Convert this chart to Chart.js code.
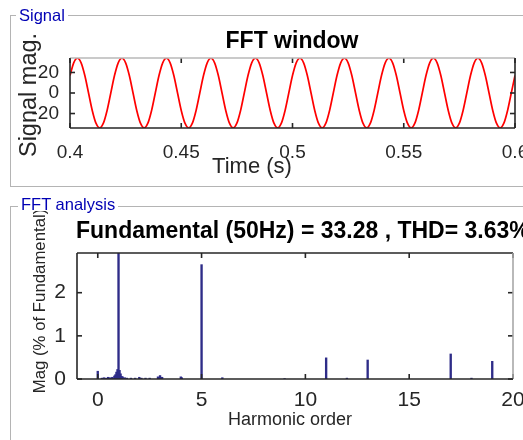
<!DOCTYPE html>
<html>
<head>
<meta charset="utf-8">
<script src="https://cdn.jsdelivr.net/npm/chart.js@4.4.1/dist/chart.umd.min.js"></script>
<style>
html,body{margin:0;padding:0;width:523px;height:440px;overflow:hidden;background:#fff;font-family:"Liberation Sans",Arial,sans-serif;}
.panel{position:absolute;border:1px solid #b4b4b4;box-sizing:border-box;}
.plabel{position:absolute;background:#fff;color:#0000b4;font-size:16.5px;line-height:13px;padding:0 3px;white-space:nowrap;}
canvas{position:absolute;left:0;}
</style>
</head>
<body>
<div class="panel" style="left:10px;top:15px;width:560px;height:172px;"></div>
<div class="panel" style="left:10px;top:206px;width:560px;height:260px;"></div>
<canvas id="c1" width="560" height="190" style="top:0;"></canvas>
<canvas id="c2" width="560" height="250" style="top:190px;"></canvas>
<div class="plabel" style="left:16px;top:9px;">Signal</div>
<div class="plabel" style="left:18px;top:198px;">FFT analysis</div>
<script>
// ---------- Signal (FFT window) ----------
const signalStartTime = 0.4;          // s
const signalSampleStep = 1 / 600;     // s between listed samples
const signalMag = [
  17.0, 29.4, 34.0, 29.4, 17.0, 0, -17.0, -29.4, -34.0, -29.4, -17.0, 0,
  17.0, 29.4, 34.0, 29.4, 17.0, 0, -17.0, -29.4, -34.0, -29.4, -17.0, 0,
  17.0, 29.4, 34.0, 29.4, 17.0, 0, -17.0, -29.4, -34.0, -29.4, -17.0, 0,
  17.0, 29.4, 34.0, 29.4, 17.0, 0, -17.0, -29.4, -34.0, -29.4, -17.0, 0,
  17.0, 29.4, 34.0, 29.4, 17.0, 0, -17.0, -29.4, -34.0, -29.4, -17.0, 0,
  17.0, 29.4, 34.0, 29.4, 17.0, 0, -17.0, -29.4, -34.0, -29.4, -17.0, 0,
  17.0, 29.4, 34.0, 29.4, 17.0, 0, -17.0, -29.4, -34.0, -29.4, -17.0, 0,
  17.0, 29.4, 34.0, 29.4, 17.0, 0, -17.0, -29.4, -34.0, -29.4, -17.0, 0,
  17.0, 29.4, 34.0, 29.4, 17.0, 0, -17.0, -29.4, -34.0, -29.4, -17.0, 0,
  17.0, 29.4, 34.0, 29.4, 17.0, 0, -17.0, -29.4, -34.0, -29.4, -17.0, 0,
  17.0
];
const timeTicks = [0.4, 0.45, 0.5, 0.55, 0.6];
const timeTickLabels = ["0.4", "0.45", "0.5", "0.55", "0.6"];
const signalTicks = [-20, 0, 20];

// ---------- FFT analysis ----------
const harmonicOrder = [0, 0.2, 0.3, 0.4, 0.5, 0.6, 0.7, 0.8, 0.85, 0.9, 0.95, 1, 1.05, 1.1, 1.15, 1.2, 1.3, 1.4, 1.6, 1.8, 2, 2.1, 2.3, 2.5, 2.9, 3, 3.1, 4, 4.05, 5, 6, 9, 11, 12, 13, 17, 18, 19];
const magPercent   = [0.18, 0.02, 0.03, 0.02, 0.04, 0.03, 0.04, 0.07, 0.1, 0.16, 0.22, 100, 0.2, 0.12, 0.06, 0.05, 0.03, 0.02, 0.02, 0.02, 0.04, 0.02, 0.02, 0.02, 0.05, 0.08, 0.04, 0.05, 0.03, 2.65, 0.03, 0.01, 0.49, 0.02, 0.44, 0.58, 0.02, 0.41];
const orderTicks = [0, 5, 10, 15, 20];
const magTicks = [0, 1, 2];

const FONT = '"Liberation Sans", Arial, sans-serif';
const TICK_COLOR = '#262626';

const matlabAxes = {
  id: 'matlabAxes',
  afterDatasetsDraw(chart, args, o) {
    const {ctx, chartArea: a, scales} = chart;
    ctx.save();
    ctx.lineWidth = 1.6;
    const seg = (x1, y1, x2, y2, c) => { ctx.strokeStyle = c || TICK_COLOR; ctx.beginPath(); ctx.moveTo(x1, y1); ctx.lineTo(x2, y2); ctx.stroke(); };
    const L = 5;
    scales.x.ticks.forEach(t => {
      const p = scales.x.getPixelForValue(t.value);
      seg(p, a.bottom, p, a.bottom - L);
      seg(p, a.top, p, a.top + L);
    });
    scales.y.ticks.forEach(t => {
      const p = scales.y.getPixelForValue(t.value);
      seg(a.left, p, a.left + L, p);
      seg(a.right, p, a.right - L, p);
    });
    const bc = o.box || {};
    seg(a.left, a.top, a.right, a.top, bc.top);
    seg(a.right, a.top, a.right, a.bottom, bc.right);
    seg(a.left, a.bottom, a.right, a.bottom, bc.bottom);
    seg(a.left, a.top, a.left, a.bottom, bc.left);
    (o.texts || []).forEach(t => {
      ctx.save();
      ctx.font = t.font;
      ctx.fillStyle = t.color;
      ctx.textAlign = t.align || 'center';
      ctx.textBaseline = 'alphabetic';
      ctx.translate(t.x, t.y);
      if (t.rotate) ctx.rotate(t.rotate);
      ctx.fillText(t.text, 0, 0);
      ctx.restore();
    });
    ctx.restore();
  }
};

function fixedScale(size) {
  return function (scale) {
    if (scale.isHorizontal()) scale.height = size; else scale.width = size;
    scale.paddingLeft = 0; scale.paddingRight = 0; scale.paddingTop = 0; scale.paddingBottom = 0;
  };
}

new Chart(document.getElementById('c1'), {
  type: 'line',
  data: {
    datasets: [{
      data: signalMag.map((v, i) => ({x: signalStartTime + i * signalSampleStep, y: v})),
      borderColor: '#ff0000',
      borderWidth: 1.7,
      pointRadius: 0,
      cubicInterpolationMode: 'monotone',
      fill: false
    }]
  },
  options: {
    responsive: false,
    animation: false,
    events: [],
    layout: {padding: {left: 0, top: 58, right: 45, bottom: 0}},
    plugins: {
      legend: {display: false},
      tooltip: {enabled: false},
      matlabAxes: {
        box: {top: '#b8b8b8'},
        texts: [
          {text: 'FFT window', x: 292, y: 48, font: 'bold 23px ' + FONT, color: '#000'},
          {text: 'Time (s)', x: 252, y: 173, font: '22px ' + FONT, color: TICK_COLOR},
          {text: 'Signal mag.', x: 36, y: 95, rotate: -Math.PI / 2, font: '23.5px ' + FONT, color: TICK_COLOR}
        ]
      }
    },
    scales: {
      x: {
        type: 'linear', min: 0.4, max: 0.6,
        grid: {display: false, drawTicks: false},
        border: {display: false},
        afterBuildTicks: s => { s.ticks = timeTicks.map(v => ({value: v})); },
        afterFit: fixedScale(62),
        ticks: {
          autoSkip: false, maxRotation: 0, padding: 13, color: TICK_COLOR,
          font: {family: FONT, size: 19},
          callback: (v, i) => timeTickLabels[i]
        }
      },
      y: {
        type: 'linear', min: -34.1, max: 34.1,
        grid: {display: false, drawTicks: false},
        border: {display: false},
        afterBuildTicks: s => { s.ticks = signalTicks.map(v => ({value: v})); },
        afterFit: fixedScale(70),
        ticks: {autoSkip: false, padding: 11, color: TICK_COLOR, font: {family: FONT, size: 19}}
      }
    }
  },
  plugins: [matlabAxes]
});

new Chart(document.getElementById('c2'), {
  type: 'bar',
  data: {
    datasets: [{
      data: harmonicOrder.map((h, i) => ({x: h, y: magPercent[i]})),
      backgroundColor: '#2e2c88',
      borderWidth: 0,
      barThickness: 1.7
    }]
  },
  options: {
    responsive: false,
    animation: false,
    events: [],
    layout: {padding: {left: 0, top: 63, right: 47, bottom: 0}},
    plugins: {
      legend: {display: false},
      tooltip: {enabled: false},
      matlabAxes: {
        box: {right: '#a8a8a8'},
        texts: [
          {text: 'Fundamental (50Hz) = 33.28 , THD= 3.63%', x: 76, y: 48, align: 'left', font: 'bold 23px ' + FONT, color: '#000'},
          {text: 'Harmonic order', x: 290, y: 235, font: '18px ' + FONT, color: TICK_COLOR},
          {text: 'Mag (% of Fundamental)', x: 45, y: 111, rotate: -Math.PI / 2, font: '16.8px ' + FONT, color: TICK_COLOR}
        ]
      }
    },
    scales: {
      x: {
        type: 'linear', min: -1, max: 20, offset: false,
        grid: {display: false, drawTicks: false},
        border: {display: false},
        afterBuildTicks: s => { s.ticks = orderTicks.map(v => ({value: v})); },
        afterFit: fixedScale(61),
        ticks: {autoSkip: false, maxRotation: 0, padding: 9, color: TICK_COLOR, font: {family: FONT, size: 21}}
      },
      y: {
        type: 'linear', min: 0, max: 2.92,
        grid: {display: false, drawTicks: false},
        border: {display: false},
        afterBuildTicks: s => { s.ticks = magTicks.map(v => ({value: v})); },
        afterFit: fixedScale(77),
        ticks: {autoSkip: false, padding: 11, color: TICK_COLOR, font: {family: FONT, size: 21}}
      }
    }
  },
  plugins: [matlabAxes]
});
</script>
</body>
</html>
